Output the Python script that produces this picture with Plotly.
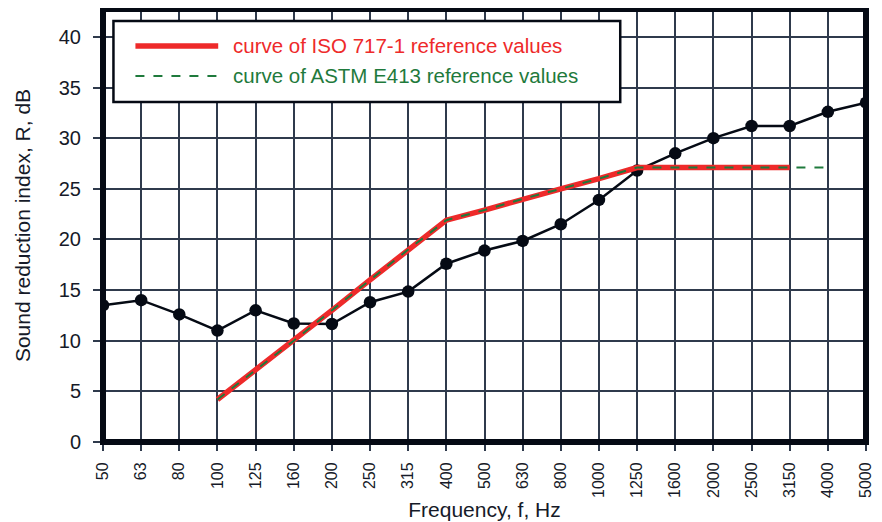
import plotly.graph_objects as go

freqs = ["50", "63", "80", "100", "125", "160", "200", "250", "315", "400", "500",
         "630", "800", "1000", "1250", "1600", "2000", "2500", "3150", "4000", "5000"]
measured = [13.5, 14.0, 12.6, 11.0, 13.0, 11.7, 11.65, 13.8, 14.85, 17.6, 18.9,
            19.85, 21.5, 23.9, 26.8, 28.5, 30.0, 31.2, 31.2, 32.6, 33.5]

iso_freqs = ["100", "125", "160", "200", "250", "315", "400", "500", "630", "800",
             "1000", "1250", "1600", "2000", "2500", "3150"]
iso_values = [4.2, 7.1, 10.0, 13.0, 16.0, 19.0, 21.9, 22.9, 24.0, 25.0, 26.0, 27.1,
              27.1, 27.1, 27.1, 27.1]

astm_freqs = iso_freqs + ["4000"]
astm_values = iso_values + [27.1]

y_ticks = [0, 5, 10, 15, 20, 25, 30, 35, 40]

iso_name = "curve of ISO 717-1 reference values"
astm_name = "curve of ASTM E413 reference values"

red = "#ee2a2a"
green = "#1f7a3c"
ink = "#050a14"
text_col = "#161a28"
grid = "#2f3a4c"

fig = go.Figure()
fig.add_trace(go.Scatter(x=freqs, y=measured, mode="lines+markers",
                         line=dict(color=ink, width=2.5),
                         marker=dict(color=ink, size=12.5),
                         showlegend=False))
fig.add_trace(go.Scatter(x=iso_freqs, y=iso_values, mode="lines",
                         line=dict(color=red, width=5.5), showlegend=False,
                         name=iso_name))
fig.add_trace(go.Scatter(x=astm_freqs, y=astm_values, mode="lines",
                         line=dict(color=green, width=2, dash="dash"), showlegend=False,
                         name=astm_name))

# manual legend (paper coordinates)
shapes = [
    dict(type="rect", xref="paper", yref="paper", x0=0.0137, x1=0.6779, y0=0.785, y1=0.972,
         fillcolor="white", line=dict(color=ink, width=2.5), layer="above"),
    dict(type="line", xref="paper", yref="paper", x0=0.0425, x1=0.151, y0=0.9146, y1=0.9146,
         line=dict(color=red, width=5.5), layer="above"),
    dict(type="line", xref="paper", yref="paper", x0=0.0425, x1=0.151, y0=0.8454, y1=0.8454,
         line=dict(color=green, width=2, dash="dash"), layer="above"),
    dict(type="rect", xref="paper", yref="paper", x0=0, x1=1, y0=0, y1=1,
         line=dict(color=ink, width=6), layer="above"),
]
annotations = [
    dict(xref="paper", yref="paper", x=0.168, y=0.9146, xanchor="left", yanchor="middle",
         text=iso_name, showarrow=False, font=dict(size=20.5, color=red)),
    dict(xref="paper", yref="paper", x=0.168, y=0.8454, xanchor="left", yanchor="middle",
         text=astm_name, showarrow=False, font=dict(size=20.5, color=green)),
]

fig.update_layout(
    width=874, height=514,
    margin=dict(l=94.5, r=16, t=1, b=79.5),
    paper_bgcolor="white", plot_bgcolor="white",
    font=dict(family="Liberation Sans, Arial, sans-serif", color=text_col),
    showlegend=False,
    xaxis=dict(type="category", categoryorder="array", categoryarray=freqs,
               range=[0, 20], showgrid=True, gridcolor=grid, gridwidth=1.5,
               ticks="outside", ticklen=8, tickcolor=grid, tickwidth=1.5, tickangle=-90,
               ticklabelstandoff=5,
               tickfont=dict(size=16), zeroline=False,
               title=dict(text="Frequency, f, Hz", font=dict(size=21), standoff=5)),
    yaxis=dict(range=[0, 42.75], tickvals=y_ticks,
               showgrid=True, gridcolor=grid, gridwidth=1.5,
               ticks="outside", ticklen=9, tickcolor=grid, tickwidth=1.5,
               ticklabelstandoff=8,
               tickfont=dict(size=20), zeroline=False,
               title=dict(text="Sound reduction index, R, dB", font=dict(size=21), standoff=22)),
    shapes=shapes,
    annotations=annotations,
)

fig.write_html("out.html")
